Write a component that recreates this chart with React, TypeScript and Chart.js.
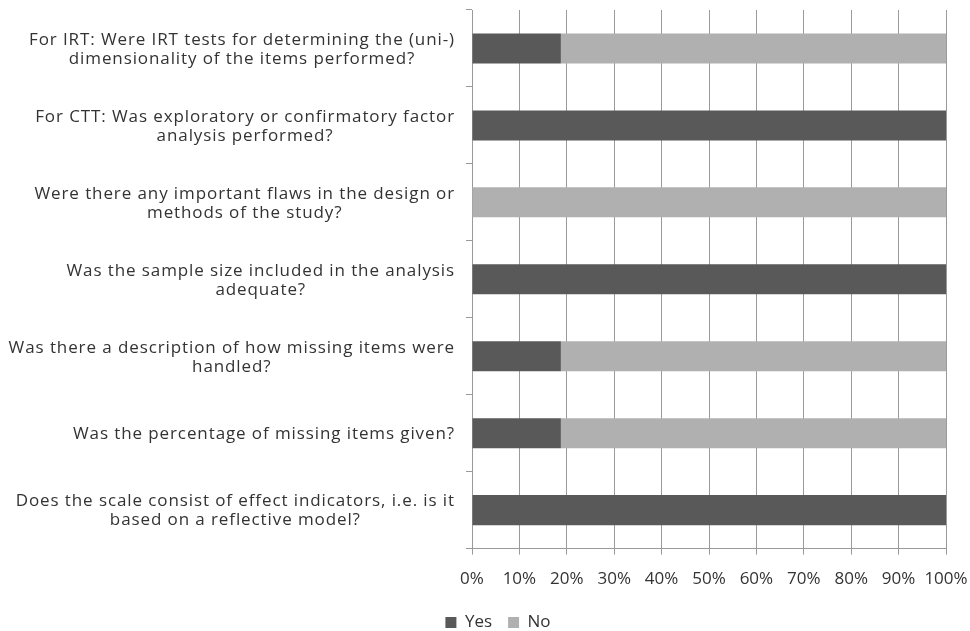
import React, { useEffect, useRef } from "react";
import { Chart, registerables } from "chart.js";

Chart.register(...registerables);

const categories: string[][] = [
  ["For IRT: Were IRT tests for determining the (uni-)", "dimensionality of the items performed?"],
  ["For CTT: Was exploratory or confirmatory factor", "analysis performed?"],
  ["Were there any important flaws in the design or", "methods of the study?"],
  ["Was the sample size included in the analysis", "adequate?"],
  ["Was there a description of how missing items were", "handled?"],
  ["Was the percentage of missing items given?"],
  ["Does the scale consist of effect indicators, i.e. is it", "based on a reflective model?"],
];
const yesValues = [18.75, 100, 0, 100, 18.75, 18.75, 100];
const noValues = [81.25, 0, 100, 0, 81.25, 81.25, 0];
const seriesNames = ["Yes", "No"];

const FONT = "'Open Sans', 'Liberation Sans', Arial, sans-serif";
const FONT_SIZE = 17;
const TEXT = "#333333";
const YES_COLOR = "#595959";
const NO_COLOR = "#b0b0b0";
const GRID = "#9a9a9a";

const labelPlugin = {
  id: "catLabels",
  afterDraw(chart: any) {
    const y = chart.scales.y;
    const ctx = chart.ctx;
    ctx.save();
    ctx.font = `${FONT_SIZE}px ${FONT}`;
    (ctx as any).letterSpacing = "0.9px";
    ctx.fillStyle = TEXT;
    ctx.textBaseline = "middle";
    ctx.textAlign = "center";
    const right = chart.chartArea.left - 17;
    const lh = 19;
    categories.forEach((lines, i) => {
      const cy = y.getPixelForValue(i);
      const w = Math.max(...lines.map((l) => ctx.measureText(l).width));
      const cx = right - w / 2;
      lines.forEach((l, j) => {
        ctx.fillText(l, cx, cy + 1 + (j - (lines.length - 1) / 2) * lh);
      });
    });
    ctx.restore();
  },
};

export default function App() {
  const ref = useRef<HTMLCanvasElement | null>(null);
  useEffect(() => {
    if (!ref.current) return;
    const chart = new Chart(ref.current, {
      type: "bar",
      data: {
        labels: categories.map((c) => c.join(" ")),
        datasets: [
          {
            label: seriesNames[0],
            data: yesValues,
            backgroundColor: YES_COLOR,
            barPercentage: 0.39,
            categoryPercentage: 1,
          },
          {
            label: seriesNames[1],
            data: noValues,
            backgroundColor: NO_COLOR,
            barPercentage: 0.39,
            categoryPercentage: 1,
          },
        ],
      },
      options: {
        indexAxis: "y",
        animation: false,
        responsive: true,
        maintainAspectRatio: false,
        layout: { padding: { left: 26, right: 0, top: 10, bottom: -10 } },
        scales: {
          x: {
            stacked: true,
            min: 0,
            max: 100,
            ticks: {
              stepSize: 10,
              callback: (v: any) => v + "%",
              font: { family: FONT, size: FONT_SIZE },
              color: TEXT,
              padding: 14,
              maxRotation: 0,
            },
            grid: { color: GRID, tickLength: 6, drawTicks: true },
            border: { color: GRID },
            afterFit: (s: any) => {
              s.height -= 5;
              s.paddingRight = 24;
            },
          },
          y: {
            stacked: true,
            ticks: { display: false },
            grid: { drawOnChartArea: false, tickLength: 6, color: GRID, offset: true },
            border: { color: GRID },
            afterFit: (s: any) => {
              s.width = 446;
            },
          },
        },
        plugins: {
          legend: {
            position: "bottom",
            labels: {
              boxWidth: 11,
              boxHeight: 11,
              font: { family: FONT, size: FONT_SIZE },
              color: TEXT,
              padding: 16,
            },
          },
          tooltip: { enabled: false },
        },
      },
      plugins: [labelPlugin],
    });
    return () => chart.destroy();
  }, []);
  return (
    <div style={{ position: "absolute", left: 0, top: 0, width: 970, height: 631, background: "#fff" }}>
      <canvas ref={ref} />
    </div>
  );
}
